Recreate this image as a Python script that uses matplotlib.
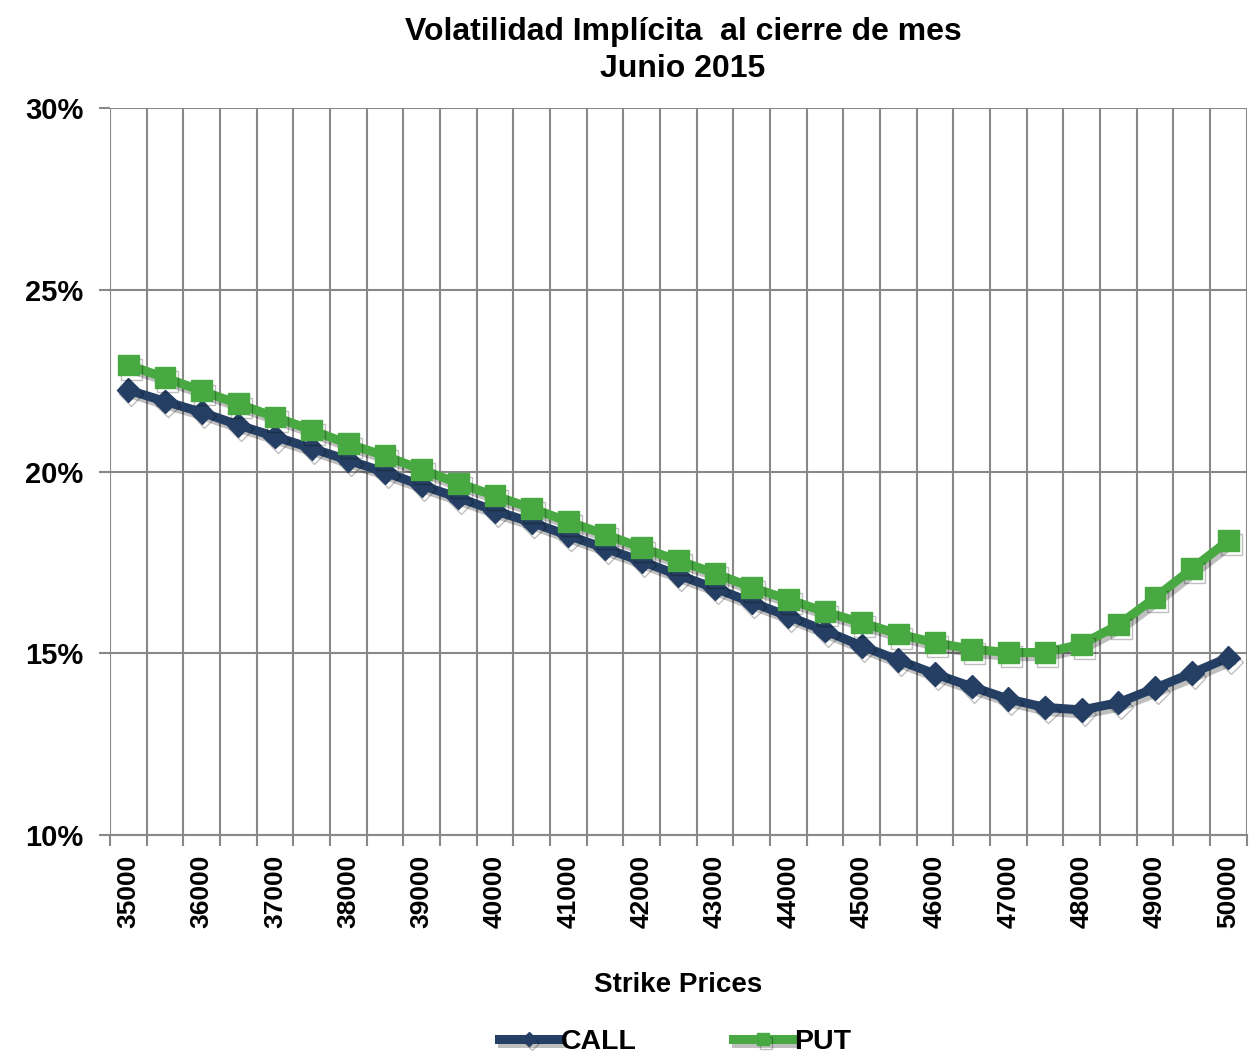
import matplotlib
matplotlib.use("Agg")
import matplotlib.pyplot as plt
import matplotlib.patheffects as pe
from matplotlib.ticker import FixedLocator, FuncFormatter, MultipleLocator

strikes = list(range(35000, 50001, 500))
call_vol = [22.24, 21.93, 21.63, 21.28, 20.96, 20.64, 20.31, 19.98, 19.62, 19.28,
            18.92, 18.60, 18.24, 17.89, 17.53, 17.15, 16.79, 16.40, 16.02, 15.62,
            15.20, 14.81, 14.43, 14.08, 13.74, 13.51, 13.44, 13.64, 14.04, 14.45, 14.88]
put_vol = [22.93, 22.58, 22.22, 21.86, 21.50, 21.14, 20.76, 20.43, 20.05, 19.68,
           19.33, 18.99, 18.62, 18.27, 17.90, 17.55, 17.20, 16.81, 16.48, 16.14,
           15.84, 15.53, 15.29, 15.11, 15.02, 15.02, 15.25, 15.78, 16.53, 17.32, 18.10]
title_lines = ["Volatilidad Implícita  al cierre de mes", "Junio 2015"]
xlabel = "Strike Prices"

plt.rcParams['font.family'] = ['Liberation Sans', 'DejaVu Sans']
plt.rcParams['font.weight'] = 'bold'

fig = plt.figure(figsize=(12.53, 10.56), dpi=100)
ax = fig.add_axes([0.0878, 0.2093, 0.9072, 0.6884])

idx = list(range(len(strikes)))
shadow = [pe.SimpleLineShadow(offset=(2, -3), alpha=0.25), pe.Normal()]
ax.plot(idx, call_vol, color='#243F63', lw=6.5, marker='D', ms=12,
        label='CALL', path_effects=shadow, zorder=3)
ax.plot(idx, put_vol, color='#48A942', lw=6.5, marker='s', ms=15,
        label='PUT', path_effects=shadow, zorder=3)

ax.set_xlim(-0.5, len(strikes) - 0.5)
ax.set_ylim(10, 30)
ax.yaxis.set_major_locator(MultipleLocator(5))
ax.yaxis.set_major_formatter(FuncFormatter(lambda v, p: f"{v:.0f}%"))

ax.xaxis.set_major_locator(FixedLocator([i for i in idx if i % 2 == 0]))
ax.set_xticklabels([str(s) for i, s in zip(idx, strikes) if i % 2 == 0], rotation=90)
ax.xaxis.set_minor_locator(FixedLocator([i - 0.5 for i in range(len(strikes) + 1)]))
ax.tick_params(axis='x', which='major', length=0, labelsize=19, pad=14)
ax.tick_params(axis='x', which='minor', length=8, width=1.5, color='#888888')
ax.tick_params(axis='y', which='major', length=8, width=1.5, color='#888888',
               labelsize=21, pad=11)

ax.grid(True, which='minor', axis='x', color='#888888', lw=1.5)
ax.grid(True, which='major', axis='y', color='#888888', lw=1.5)
ax.set_axisbelow(True)
for s in ['top', 'right']:
    ax.spines[s].set_visible(False)
ax.spines['left'].set_visible(False)
ax.spines['bottom'].set_color('#888888')
ax.spines['bottom'].set_linewidth(1.5)

fig.text(0.545, 1 - 32 / 1056, title_lines[0], fontsize=23, fontweight='bold',
         ha='center', va='center')
fig.text(0.545, 1 - 69 / 1056, title_lines[1], fontsize=23, fontweight='bold',
         ha='center', va='center')
ax.set_xlabel(xlabel, fontsize=20, fontweight='bold', labelpad=32)

leg = fig.legend(loc='center', bbox_to_anchor=(0.539, 0.0135), ncol=2, frameon=False,
                 fontsize=20.5, handlelength=2.1, columnspacing=3.4, handletextpad=0.05,
                 markerscale=0.6)

fig.savefig('out.png', dpi=100)
